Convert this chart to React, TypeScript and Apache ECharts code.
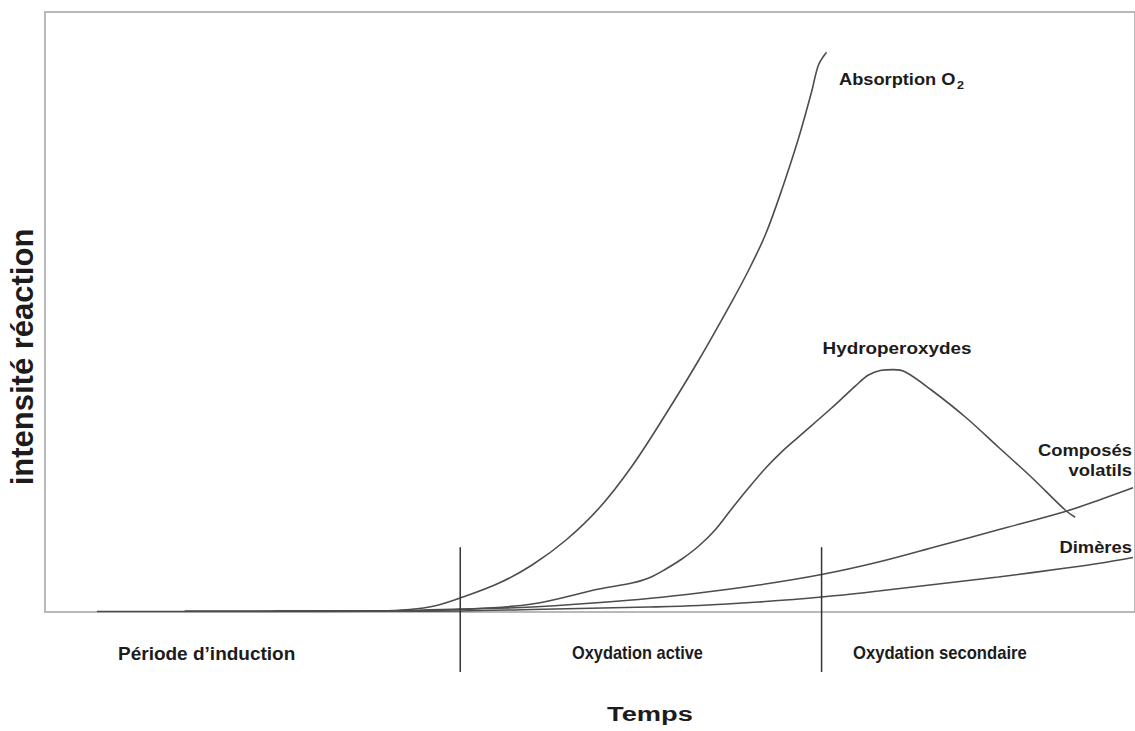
import React, { useEffect, useRef } from "react";
import * as echarts from "echarts";

// Time (arbitrary units) and reaction intensity (arbitrary units, 0-100)
const absorptionO2: [number, number][] = [
  [5.2, 0.08], [25.5, 0.1], [33.5, 0.17], [36.5, 0.42], [39, 1], [41.6, 2.33], [45.5, 4.83],
  [48.8, 7.83], [52.2, 12], [55.5, 17.3], [58.8, 24.3], [62.2, 33], [65.5, 42],
  [68.8, 51.7], [70.5, 57], [72.2, 63], [73.8, 70.3], [75.5, 79], [76.8, 86.7], [77.5, 91.2], [78.3, 93.3],
];
const hydroperoxydes: [number, number][] = [
  [14, 0.17], [35.5, 0.2], [41.6, 0.42], [48.8, 1.33], [55.5, 3.83], [58.8, 4.83], [60.5, 5.67],
  [62.2, 7.17], [63.8, 8.83], [65.5, 11], [67.2, 13.8], [68.8, 17.2], [70.5, 20.7], [72.2, 24],
  [73.8, 26.7], [75.5, 29.2], [78.8, 34], [81.2, 37.7], [82.5, 39.5], [83.8, 40.3], [85, 40.4],
  [86.2, 40], [88.8, 37], [92.2, 32.5], [95.5, 27.5], [98.8, 22.5], [102.2, 17], [103.2, 15.8],
];
const composesVolatils: [number, number][] = [
  [23, 0.17], [35.5, 0.25], [41.6, 0.5], [48.8, 0.83], [58.8, 2], [65.5, 3.17], [71.5, 4.5],
  [77.8, 6.25], [83.5, 8.33], [89.5, 11], [95.5, 13.7], [102.3, 16.8], [105.5, 18.6], [109, 20.7],
];
const dimeres: [number, number][] = [
  [32, 0.12], [41.6, 0.17], [48.8, 0.42], [60.5, 0.83], [65.5, 1.08], [71.5, 1.67], [77.8, 2.5],
  [83.5, 3.5], [89.5, 4.67], [95.5, 5.83], [102.3, 7.33], [105.5, 8.08], [109, 9.08],
];
// Phase boundaries (time) and their vertical extent (intensity units)
const phaseBoundaries = [41.6, 77.8];
const separatorTop = 10.8;
const separatorBottom = -10;

const phaseLabels = ["Période d\u2019induction", "Oxydation active", "Oxydation secondaire"];
const xAxisTitle = "Temps";
const yAxisTitle = "intensité réaction";

const FONT = "'Liberation Sans', Arial, sans-serif";
const TXT = "#1c1c1c";

export default function App() {
  const ref = useRef<HTMLDivElement>(null);
  useEffect(() => {
    if (!ref.current) return;
    const chart = echarts.init(ref.current, null, { renderer: "svg" });
    const lineStyle = { color: "#4d4d4d", width: 1.6 };
    const mkLine = (name: string, data: [number, number][]) => ({
      type: "line",
      name,
      data,
      smooth: 0.35,
      showSymbol: false,
      symbol: "none",
      lineStyle,
      silent: true,
      z: 3,
    });
    const txt = (text: string, x: number, y: number, size: number, scaleX: number, align: string, extra: any = {}) => ({
      type: "text",
      x,
      y,
      scaleX,
      silent: true,
      ...extra,
      style: {
        text,
        fontSize: size,
        fontWeight: "bold",
        fontFamily: FONT,
        fill: TXT,
        textAlign: align,
        textVerticalAlign: "middle",
      },
    });
    chart.setOption({
      animation: false,
      backgroundColor: "#fff",
      grid: {
        left: 45,
        right: -2,
        top: 12,
        bottom: 119,
        show: true,
        borderColor: "#b9b9b9",
        borderWidth: 2,
        backgroundColor: "transparent",
      },
      xAxis: {
        type: "value",
        min: 0,
        max: 109.2,
        axisLine: { show: false },
        axisTick: { show: false },
        axisLabel: { show: false },
        splitLine: { show: false },
      },
      yAxis: {
        type: "value",
        min: 0,
        max: 100,
        axisLine: { show: false },
        axisTick: { show: false },
        axisLabel: { show: false },
        splitLine: { show: false },
      },
      series: [
        mkLine("Absorption O2", absorptionO2),
        mkLine("Hydroperoxydes", hydroperoxydes),
        mkLine("Composés volatils", composesVolatils),
        mkLine("Dimères", dimeres),
        {
          type: "custom",
          clip: false,
          silent: true,
          data: phaseBoundaries.map((t) => [t, 0]),
          encode: { x: 0, y: 1 },
          renderItem: (params: any, api: any) => {
            const t = api.value(0);
            const a = api.coord([t, separatorTop]);
            const b = api.coord([t, separatorBottom]);
            return {
              type: "line",
              shape: { x1: a[0], y1: a[1], x2: b[0], y2: b[1] },
              style: { stroke: "#333", lineWidth: 1.5 },
            };
          },
          z: 4,
        },
      ],
      graphic: [
        txt("Absorption O", 839, 79, 16, 1.14, "left"),
        txt("2", 957, 85, 11, 1.14, "left"),
        txt("Hydroperoxydes", 897, 349, 16, 1.18, "center"),
        txt("Composés", 1132, 450, 16, 1.15, "right"),
        txt("volatils", 1132, 470, 16, 1.15, "right"),
        txt("Dimères", 1132, 547, 16, 1.15, "right"),
        txt(phaseLabels[0], 118, 653, 19, 1.0, "left"),
        txt(phaseLabels[1], 572, 653, 18.5, 0.885, "left"),
        txt(phaseLabels[2], 853, 653, 18.5, 0.9, "left"),
        txt(xAxisTitle, 650, 714, 21, 1.3, "center"),
        txt(yAxisTitle, 22, 357, 31, 1.0, "center", { rotation: Math.PI / 2 }),
      ],
    });
    return () => chart.dispose();
  }, []);
  return (
    <div
      ref={ref}
      style={{ position: "absolute", left: 0, top: 0, width: 1135, height: 731, background: "#fff" }}
    />
  );
}
